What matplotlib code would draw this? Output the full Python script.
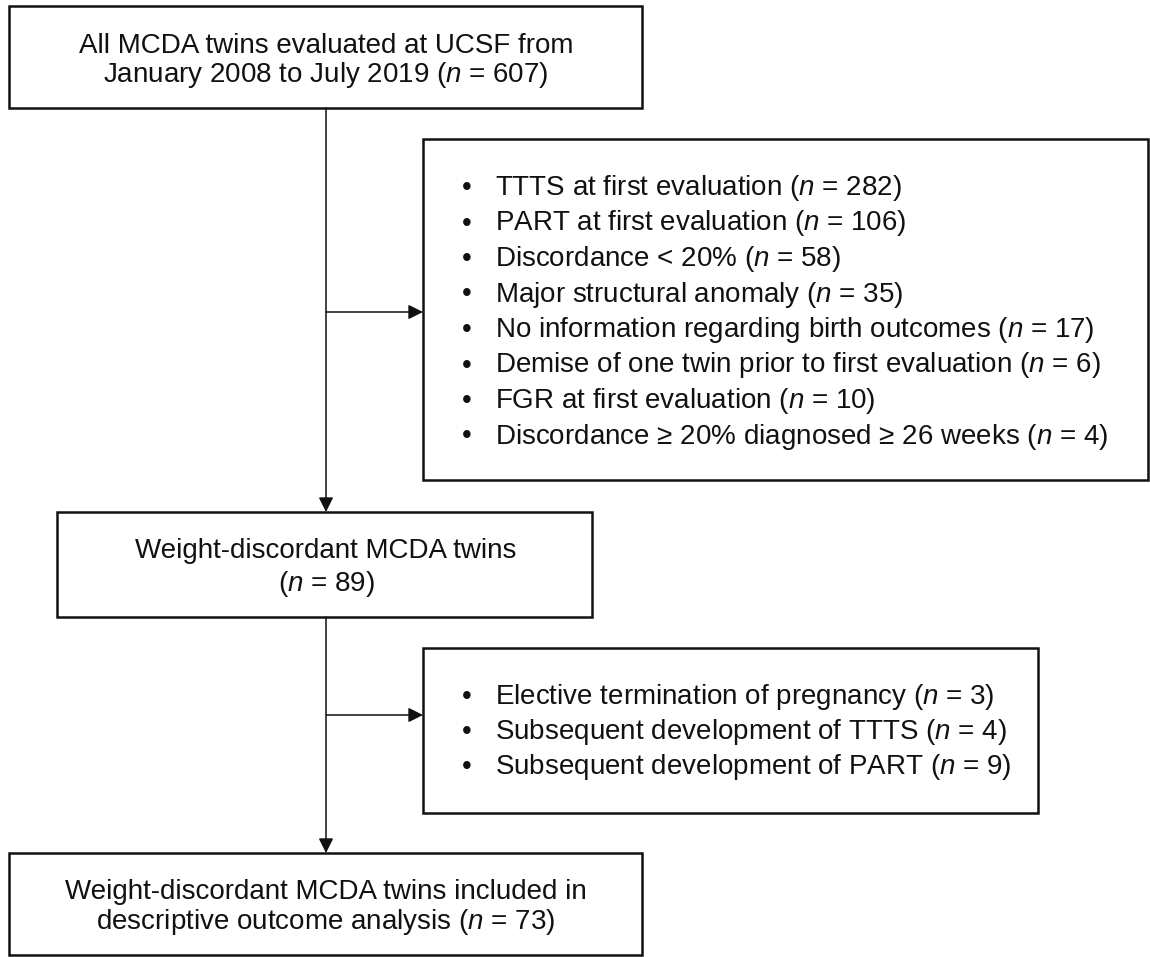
import matplotlib
matplotlib.use("Agg")
import matplotlib.pyplot as plt
from matplotlib.patches import Rectangle

plt.rcParams['font.family'] = ['Liberation Sans', 'DejaVu Sans']
plt.rcParams['mathtext.fontset'] = 'custom'
plt.rcParams['mathtext.rm'] = 'Liberation Sans'
plt.rcParams['mathtext.it'] = 'Liberation Sans:italic'

# flow counts
n_total = 607
excl1_labels = ['TTTS at first evaluation',
                'PART at first evaluation',
                'Discordance < 20%',
                'Major structural anomaly',
                'No information regarding birth outcomes',
                'Demise of one twin prior to first evaluation',
                'FGR at first evaluation',
                'Discordance \u2265 20% diagnosed \u2265 26 weeks']
excl1_n = [282, 106, 58, 35, 17, 6, 10, 4]
n_mid = 89
excl2_labels = ['Elective termination of pregnancy',
                'Subsequent development of TTTS',
                'Subsequent development of PART']
excl2_n = [3, 4, 9]
n_final = 73

top_lines = ['All MCDA twins evaluated at UCSF from',
             'January 2008 to July 2019 ($\\it{n}$ = %d)' % n_total]
mid_lines = ['Weight-discordant MCDA twins',
             '($\\it{n}$ = %d)' % n_mid]
final_lines = ['Weight-discordant MCDA twins included in',
               'descriptive outcome analysis ($\\it{n}$ = %d)' % n_final]

W, H = 1150, 957
fig = plt.figure(figsize=(W / 100, H / 100), dpi=100)
ax = fig.add_axes([0, 0, 1, 1])
ax.set_xlim(0, W)
ax.set_ylim(H, 0)
ax.axis('off')

FS = 20
BOX_LW = 1.8
LINE_LW = 1.1
XC = 326  # main column centre


def box(x0, y0, x1, y1):
    ax.add_patch(Rectangle((x0, y0), x1 - x0, y1 - y0, fill=False,
                           ec='#111111', lw=BOX_LW))


def centered(lines, yc, step):
    y0 = yc - step * (len(lines) - 1) / 2
    for i, s in enumerate(lines):
        ax.text(XC, y0 + i * step + 10, s, ha='center', va='baseline',
                fontsize=FS, color='#111111')


def bullets(labels, counts, yfirst, step):
    for i, (lab, n) in enumerate(zip(labels, counts)):
        y = yfirst + i * step + 10
        ax.text(467, y, '\u2022', ha='center', va='baseline', fontsize=FS,
                color='#111111')
        ax.text(495, y, lab + ' ($\\it{n}$ = %d)' % n, ha='left',
                va='baseline', fontsize=FS, color='#111111')


def arrow(x0, y0, x1, y1):
    ax.annotate('', xy=(x1, y1), xytext=(x0, y0),
                arrowprops=dict(arrowstyle='-|>', color='#111111',
                                lw=LINE_LW, mutation_scale=22,
                                shrinkA=0, shrinkB=0))


# boxes
box(9, 6, 642, 108)
box(423, 139, 1148, 480)
box(57, 512, 592, 617)
box(423, 648, 1038, 813)
box(9, 853, 642, 955)

centered(top_lines, 57.5, 29)
bullets(excl1_labels, excl1_n, 185, 35.5)
centered(mid_lines, 564.5, 33)
bullets(excl2_labels, excl2_n, 694, 35)
centered(final_lines, 904, 30)

# connectors
arrow(XC, 108, XC, 512)
arrow(XC, 312, 423, 312)
arrow(XC, 617, XC, 853)
arrow(XC, 715, 423, 715)

fig.savefig('out.png', dpi=100, facecolor='white')
